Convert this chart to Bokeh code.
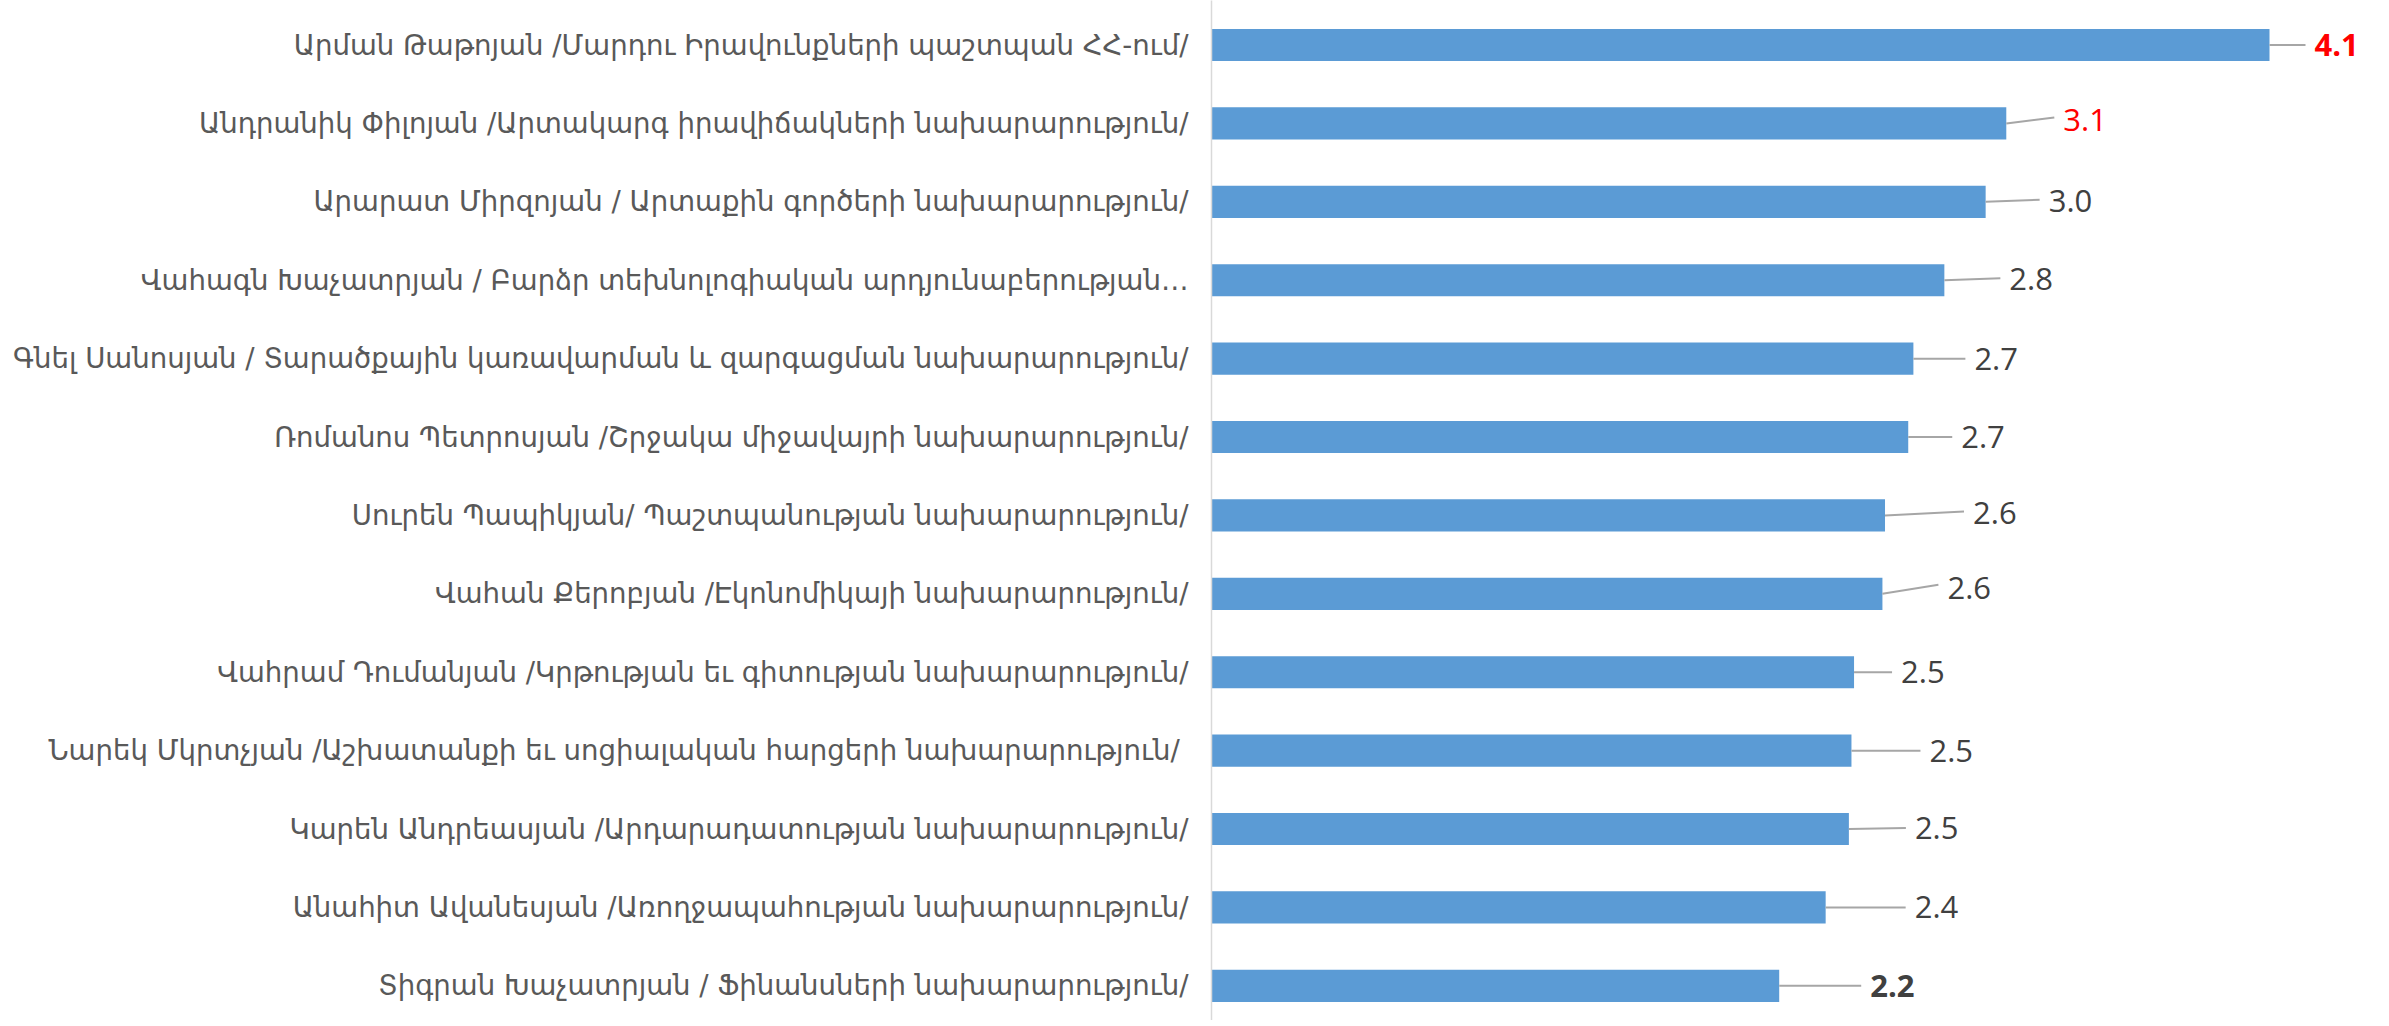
from bokeh.plotting import figure
from bokeh.models import Range1d, FixedTicker, ColumnDataSource
from bokeh.embed import file_html
from bokeh.resources import INLINE
from bokeh.core.properties import value

# ---- data (top to bottom) ----
labels = [
    "Արման Թաթոյան /Մարդու Իրավունքների պաշտպան ՀՀ-ում/",
    "Անդրանիկ Փիլոյան /Արտակարգ իրավիճակների նախարարություն/",
    "Արարատ Միրզոյան / Արտաքին գործերի նախարարություն/",
    "Վահագն Խաչատրյան / Բարձր տեխնոլոգիական արդյունաբերության…",
    "Գնել Սանոսյան / Տարածքային կառավարման և զարգացման նախարարություն/",
    "Ռոմանոս Պետրոսյան /Շրջակա միջավայրի նախարարություն/",
    "Սուրեն Պապիկյան/ Պաշտպանության նախարարություն/",
    "Վահան Քերոբյան /Էկոնոմիկայի նախարարություն/",
    "Վահրամ Դումանյան /Կրթության եւ գիտության նախարարություն/",
    "Նարեկ Մկրտչյան  /Աշխատանքի եւ սոցիալական հարցերի նախարարություն/",
    "Կարեն Անդրեասյան /Արդարադատության նախարարություն/",
    "Անահիտ Ավանեսյան /Առողջապահության նախարարություն/",
    "Տիգրան Խաչատրյան / Ֆինանսների նախարարություն/",
]
scores = [4.10, 3.08, 3.00, 2.84, 2.72, 2.70, 2.61, 2.60, 2.49, 2.48, 2.47, 2.38, 2.20]

# ---- label styling (leader lengths in screen px, colours, weights) ----
leader_dx_px = [36, 48, 54, 56, 52, 44, 79, 56, 38, 69, 57, 80, 82]
leader_dy_px = [0, 6, 2, 2, 0, 0, 4, 9, 0, 0, 1, 0, 0]
label_colors = ["#FF0000", "#FF0000"] + ["#404040"] * 11
label_styles = ["bold", "normal"] + ["normal"] * 10 + ["bold"]

n = len(labels)
ypos = [n - 1 - i for i in range(n)]

W, H = 2373, 1020
left_border = 1211
frame_w = W - left_border
px_per_x = 258.05
x_end = frame_w / px_per_x
y_start, y_end = -0.442, 12.568
px_per_y = H / (y_end - y_start)

p = figure(width=W, height=H, output_backend="svg", toolbar_location=None,
           x_range=Range1d(0, x_end), y_range=Range1d(y_start, y_end),
           min_border_left=left_border, min_border_right=0,
           min_border_top=0, min_border_bottom=0)
p.outline_line_color = None
p.xgrid.visible = False
p.ygrid.visible = False
p.xaxis.visible = False
p.background_fill_color = "white"
p.border_fill_color = "white"

src = ColumnDataSource(dict(
    y=ypos, v=scores,
    txt=[f"{s:.1f}" for s in scores],
    x1=[s + dx / px_per_x for s, dx in zip(scores, leader_dx_px)],
    y1=[y + dy / px_per_y for y, dy in zip(ypos, leader_dy_px)],
    tx=[s + (dx + 9) / px_per_x for s, dx in zip(scores, leader_dx_px)],
    ty=[y + dy * 0.6 / px_per_y for y, dy in zip(ypos, leader_dy_px)],
    col=label_colors, sty=label_styles,
))

p.hbar(y="y", right="v", left=0, height=0.41, source=src,
       fill_color="#5B9BD5", line_color=None)
p.segment(x0="v", y0="y", x1="x1", y1="y1", source=src,
          line_color="#A6A6A6", line_width=2)
p.text(x="tx", y="ty", text="txt", source=src, text_color="col",
       text_font_style="sty", text_font=value("Open Sans"),
       text_font_size="31px", text_baseline="middle", text_align="left")

ax = p.yaxis[0]
ax.ticker = FixedTicker(ticks=ypos)
ax.major_label_overrides = {y: lab for y, lab in zip(ypos, labels)}
ax.major_tick_line_color = None
ax.minor_tick_line_color = None
ax.axis_line_color = "#D9D9D9"
ax.axis_line_width = 1.5
ax.major_label_standoff = 17
ax.major_label_text_font = "DejaVu Sans"
ax.major_label_text_font_size = "27.6px"
ax.major_label_text_color = "#595959"

open("out.html", "w").write(file_html(p, INLINE))
